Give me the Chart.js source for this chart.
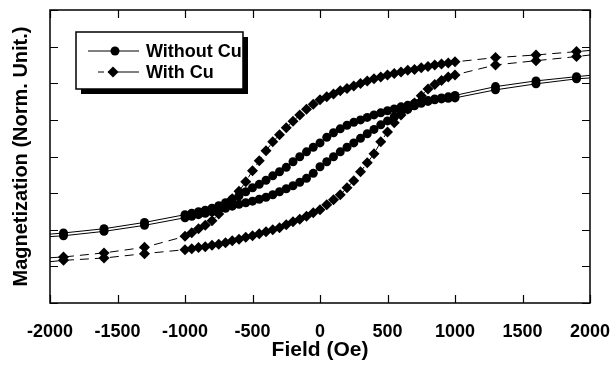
<!DOCTYPE html>
<html><head><meta charset="utf-8">
<script src="https://cdn.jsdelivr.net/npm/chart.js@4.4.0/dist/chart.umd.min.js"></script>
<style>html,body{margin:0;padding:0;background:#fff}canvas{display:block}</style>
</head><body>
<canvas id="c" width="611" height="369"></canvas>
<script>
const FONT = '"Liberation Sans", Arial, Helvetica, sans-serif';

const field = [-2000,-1900,-1600,-1300,-1000,-950,-900,-850,-800,-750,-700,-650,-600,-550,-500,-450,-400,-350,-300,-250,-200,-150,-100,-50,0,50,100,150,200,250,300,350,400,450,500,550,600,650,700,750,800,850,900,950,1000,1300,1600,1900,2000];

const withoutCuDesc = [-0.530,-0.522,-0.493,-0.450,-0.397,-0.387,-0.377,-0.367,-0.353,-0.336,-0.316,-0.292,-0.268,-0.241,-0.213,-0.190,-0.162,-0.132,-0.104,-0.074,-0.036,-0.002,0.032,0.063,0.093,0.131,0.162,0.189,0.213,0.233,0.250,0.267,0.284,0.298,0.312,0.325,0.339,0.349,0.363,0.373,0.383,0.393,0.400,0.407,0.417,0.477,0.516,0.545,0.554];
const withoutCuAsc = [-0.547,-0.541,-0.511,-0.470,-0.418,-0.408,-0.397,-0.387,-0.377,-0.363,-0.353,-0.339,-0.326,-0.316,-0.305,-0.292,-0.278,-0.261,-0.241,-0.220,-0.200,-0.176,-0.149,-0.115,-0.070,-0.036,-0.002,0.032,0.063,0.093,0.124,0.155,0.185,0.216,0.243,0.271,0.298,0.322,0.346,0.363,0.376,0.387,0.393,0.397,0.400,0.455,0.496,0.530,0.536];
const withCuDesc = [-0.691,-0.686,-0.658,-0.620,-0.545,-0.520,-0.493,-0.469,-0.438,-0.392,-0.340,-0.288,-0.237,-0.172,-0.097,-0.029,0.039,0.100,0.148,0.196,0.240,0.284,0.322,0.356,0.387,0.407,0.427,0.448,0.465,0.482,0.499,0.516,0.530,0.543,0.557,0.567,0.577,0.588,0.594,0.605,0.615,0.625,0.632,0.639,0.646,0.675,0.693,0.716,0.724];
const withCuAsc = [-0.718,-0.709,-0.693,-0.663,-0.636,-0.629,-0.622,-0.616,-0.605,-0.599,-0.588,-0.575,-0.564,-0.551,-0.541,-0.527,-0.513,-0.500,-0.486,-0.466,-0.445,-0.428,-0.408,-0.384,-0.363,-0.329,-0.295,-0.261,-0.213,-0.166,-0.104,-0.043,0.018,0.100,0.168,0.230,0.284,0.325,0.366,0.415,0.461,0.492,0.519,0.543,0.557,0.625,0.654,0.682,0.693];

const xTickValues = [-2000,-1500,-1000,-500,0,500,1000,1500,2000];
const yTickValues = [-1,-0.75,-0.5,-0.25,0,0.25,0.5,0.75,1];
const seriesNames = ['Without Cu','With Cu'];
const xTitle = 'Field (Oe)';
const yTitle = 'Magnetization (Norm. Unit.)';

function pts(ys){ return field.map((x,i)=>({x:x, y:ys[i]})); }
const markerR = (r) => (ctx) => (ctx.raw && Math.abs(ctx.raw.x) >= 2000) ? 0 : r;

function ds(label, ys, style, dash){
  return {
    label, data: pts(ys), showLine: true,
    borderColor:'#000', borderWidth:1, borderDash: dash,
    backgroundColor:'#000', pointBackgroundColor:'#000', pointBorderWidth:0,
    pointStyle: style, pointRadius: markerR(style==='circle'?4.5:5.5),
    pointHoverRadius: markerR(style==='circle'?4.5:5.5), tension:0
  };
}

const frameTicks = {
  id:'frameTicks',
  afterDraw(chart){
    const {ctx, chartArea:a} = chart;
    const xs = chart.scales.x, ys = chart.scales.y;
    ctx.save();
    ctx.strokeStyle='#000'; ctx.lineWidth=1.5;
    ctx.strokeRect(a.left, a.top, a.right-a.left, a.bottom-a.top);
    ctx.lineWidth=1.2;
    const L=8;
    ctx.beginPath();
    xs.ticks.forEach(t=>{
      const px = Math.round(xs.getPixelForValue(t.value))+0.5;
      ctx.moveTo(px,a.bottom); ctx.lineTo(px,a.bottom-L);
      ctx.moveTo(px,a.top); ctx.lineTo(px,a.top+L);
    });
    ys.ticks.forEach(t=>{
      const py = Math.round(ys.getPixelForValue(t.value))+0.5;
      ctx.moveTo(a.left,py); ctx.lineTo(a.left+L,py);
      ctx.moveTo(a.right,py); ctx.lineTo(a.right-L,py);
    });
    ctx.stroke();

    // legend box
    const bx=76, by=32, bw=167, bh=57;
    ctx.fillStyle='#000';
    ctx.fillRect(bx+5, by+5, bw, bh);
    ctx.fillStyle='#fff';
    ctx.fillRect(bx, by, bw, bh);
    ctx.lineWidth=1.5;
    ctx.strokeRect(bx, by, bw, bh);
    ctx.lineWidth=1;
    const y1=51, y2=72;
    ctx.beginPath(); ctx.moveTo(88,y1); ctx.lineTo(139,y1); ctx.stroke();
    ctx.fillStyle='#000';
    ctx.beginPath(); ctx.arc(115,y1,4.5,0,Math.PI*2); ctx.fill();
    ctx.beginPath(); ctx.moveTo(98,y2); ctx.lineTo(104,y2); ctx.moveTo(108,y2); ctx.lineTo(139,y2); ctx.stroke();
    ctx.beginPath(); ctx.moveTo(113,y2-5.5); ctx.lineTo(118.5,y2); ctx.lineTo(113,y2+5.5); ctx.lineTo(107.5,y2); ctx.closePath(); ctx.fill();
    ctx.font = 'bold 18px ' + FONT;
    ctx.textBaseline='middle'; ctx.textAlign='left';
    ctx.fillText(seriesNames[0], 146, y1+1);
    ctx.fillText(seriesNames[1], 146, y2+1);
    ctx.restore();
  }
};

new Chart(document.getElementById('c'), {
  type:'scatter',
  data:{ datasets:[
    ds(seriesNames[0], withoutCuDesc, 'circle', []),
    ds(seriesNames[0]+' ', withoutCuAsc, 'circle', []),
    ds(seriesNames[1], withCuDesc, 'rectRot', [9,6]),
    ds(seriesNames[1]+' ', withCuAsc, 'rectRot', [9,6])
  ]},
  options:{
    responsive:false, animation:false, devicePixelRatio:1,
    events:[],
    layout:{padding:{top:10,right:21,left:0,bottom:0}},
    plugins:{legend:{display:false}, tooltip:{enabled:false}},
    scales:{
      x:{
        type:'linear', min:-2000, max:2000,
        afterBuildTicks:s=>{ s.ticks = xTickValues.map(v=>({value:v})); },
        afterFit:s=>{ s.height = 66; s.paddingLeft = 0; s.paddingRight = 0; },
        grid:{display:false, drawTicks:false},
        border:{display:false},
        ticks:{color:'#000', font:{family:FONT, size:18, weight:'bold'}, padding:18, maxRotation:0, autoSkip:false,
               callback:v=>String(v)},
        title:{display:true, text:xTitle, color:'#000', font:{family:FONT, size:21, weight:'bold'}, padding:{top:0,bottom:6}}
      },
      y:{
        type:'linear', min:-1, max:1,
        afterBuildTicks:s=>{ s.ticks = yTickValues.map(v=>({value:v})); },
        afterFit:s=>{ s.width = 50; },
        grid:{display:false, drawTicks:false},
        border:{display:false},
        ticks:{display:false},
        title:{display:true, text:yTitle, color:'#000', font:{family:FONT, size:20, weight:'bold'}, padding:{top:9,bottom:0}}
      }
    }
  },
  plugins:[frameTicks]
});
</script>
</body></html>
